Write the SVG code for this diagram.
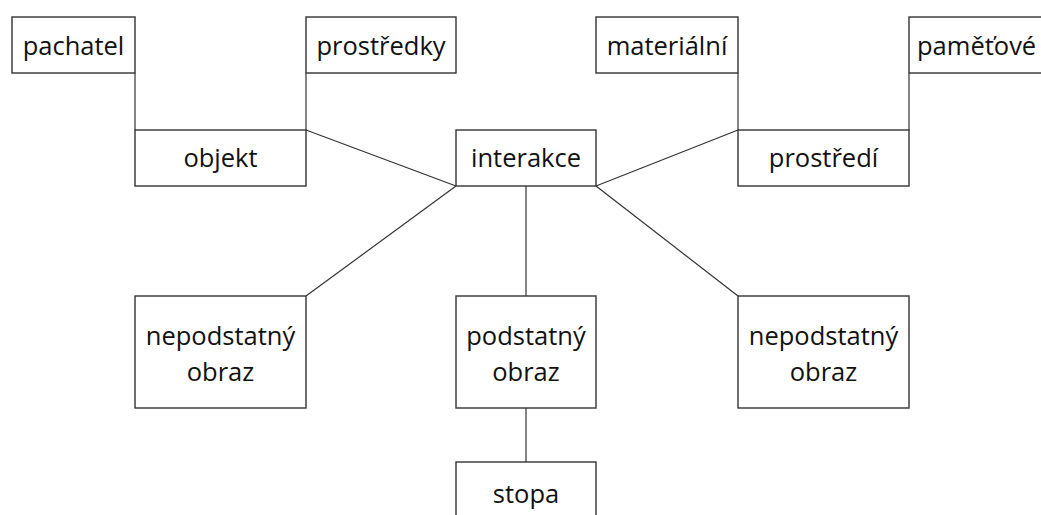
<svg xmlns="http://www.w3.org/2000/svg" width="1041" height="515" viewBox="0 0 1041 515">
<style>
.box{fill:#fff;stroke:#333;stroke-width:1.4}
line{stroke:#333;stroke-width:1.2}
text{font-family:"Open Sans","Noto Sans",sans-serif;font-size:25.5px;fill:#111;text-anchor:middle}
</style>
<rect width="1041" height="515" fill="#fff"/>
<g id="connectors">
<line x1="135" y1="73" x2="135" y2="130"/>
<line x1="306" y1="73" x2="306" y2="130"/>
<line x1="738" y1="73" x2="738" y2="130"/>
<line x1="909" y1="73" x2="909" y2="130"/>
<line x1="306" y1="130" x2="456" y2="186"/>
<line x1="738" y1="130" x2="596" y2="186"/>
<line x1="456" y1="186" x2="306" y2="296"/>
<line x1="596" y1="186" x2="738" y2="296"/>
<line x1="526" y1="186" x2="526" y2="296"/>
<line x1="526" y1="408" x2="526" y2="462"/>
</g>
<g id="pachatel"><rect class="box" x="12" y="17" width="123" height="56"/><text x="73.5" y="55">pachatel</text></g>
<g id="prostredky"><rect class="box" x="306" y="17" width="150" height="56"/><text x="381" y="55">prostředky</text></g>
<g id="materialni"><rect class="box" x="596" y="17" width="142" height="56"/><text x="667" y="55">materiální</text></g>
<g id="pametove"><rect class="box" x="909" y="17" width="140" height="56"/><text x="917" y="55" style="text-anchor:start">paměťové</text></g>
<g id="objekt"><rect class="box" x="135" y="130" width="171" height="56"/><text x="220.5" y="167">objekt</text></g>
<g id="interakce"><rect class="box" x="456" y="130" width="140" height="56"/><text x="526" y="167">interakce</text></g>
<g id="prostredi"><rect class="box" x="738" y="130" width="171" height="56"/><text x="823.5" y="167">prostředí</text></g>
<g id="nepodstatny-left"><rect class="box" x="135" y="296" width="171" height="112"/><text x="220.5" y="345">nepodstatný</text><text x="220.5" y="381">obraz</text></g>
<g id="podstatny"><rect class="box" x="456" y="296" width="140" height="112"/><text x="526" y="345">podstatný</text><text x="526" y="381">obraz</text></g>
<g id="nepodstatny-right"><rect class="box" x="738" y="296" width="171" height="112"/><text x="823.5" y="345">nepodstatný</text><text x="823.5" y="381">obraz</text></g>
<g id="stopa"><rect class="box" x="456" y="462" width="140" height="60"/><text x="526" y="503">stopa</text></g>
</svg>
